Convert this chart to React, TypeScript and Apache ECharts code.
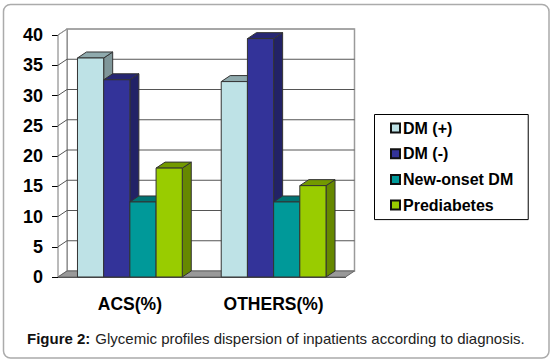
import React, { useEffect, useRef } from "react";
import * as echarts from "echarts";

const categories = ["ACS(%)", "OTHERS(%)"];
const dmPositive = [36.2, 32.3];
const dmNegative = [32.6, 39.4];
const newOnsetDm = [12.4, 12.4];
const prediabetes = [18, 15.1];
const gridTicks = [0, 5, 10, 15, 20, 25, 30, 35, 40];
const seriesNames = ["DM (+)", "DM (-)", "New-onset DM", "Prediabetes"];
const seriesValues = [dmPositive, dmNegative, newOnsetDm, prediabetes];
const frontColors = ["#BEE2E6", "#333399", "#009999", "#99CC00"];
const topColors = ["#8FAAAD", "#262673", "#007373", "#739900"];
const sideColors = ["#7F9699", "#222266", "#006666", "#668800"];
const caption = "Glycemic profiles dispersion of inpatients according to diagnosis.";

const DX = 9;
const DY = -6;
const BAR_W = 26.2;
const EDGE = "#333333";
const FONT = "'Liberation Sans', Arial, sans-serif";

function poly(points: number[][], fill: string, stroke = EDGE, lineWidth = 1) {
  return { type: "polygon", shape: { points }, style: { fill, stroke, lineWidth } };
}

function renderWall(params: any, api: any) {
  const cs = params.coordSys;
  const value = api.value(0);
  const [, y] = api.coord([0, value]);
  const x0 = cs.x;
  const x1 = cs.x + cs.width;
  const children: any[] = [];
  if (value === gridTicks[0]) {
    const top = cs.y;
    const bottom = cs.y + cs.height;
    children.push({
      type: "polygon",
      shape: { points: [[x0 + DX, top + DY], [x1 + DX, top + DY], [x1 + DX, bottom + DY], [x0 + DX, bottom + DY]] },
      style: { fill: "#FFFFFF", stroke: "#9A9A9A", lineWidth: 1.5 },
    });
    children.push(poly([[x0, top], [x0 + DX, top + DY], [x0 + DX, bottom + DY], [x0, bottom]], "#FFFFFF", "#777777", 1));
    children.push(poly([[x0, bottom], [x0 + DX, bottom + DY], [x1 + DX, bottom + DY], [x1, bottom]], "#999999", "#666666", 1));
  } else {
    children.push({
      type: "polyline",
      shape: { points: [[x0, y], [x0 + DX, y + DY], [x1 + DX, y + DY]] },
      style: { fill: "none", stroke: value === gridTicks[gridTicks.length - 1] ? "#9A9A9A" : "#555555", lineWidth: 1 },
    });
  }
  return { type: "group", children };
}

function makeBarRenderer(index: number) {
  return (_params: any, api: any) => {
    const cat = api.value(0);
    const [cx, yTop] = api.coord([cat, api.value(1)]);
    const [, yBase] = api.coord([cat, 0]);
    const left = cx + (index - seriesValues.length / 2) * BAR_W;
    const right = left + BAR_W;
    return {
      type: "group",
      children: [
        poly([[right, yTop], [right + DX, yTop + DY], [right + DX, yBase + DY], [right, yBase]], sideColors[index]),
        poly([[left, yTop], [left + DX, yTop + DY], [right + DX, yTop + DY], [right, yTop]], topColors[index]),
        poly([[left, yTop], [right, yTop], [right, yBase], [left, yBase]], frontColors[index]),
      ],
    };
  };
}

export default function App() {
  const ref = useRef<HTMLDivElement>(null);
  useEffect(() => {
    document.body.style.margin = "0";
    const chart = echarts.init(ref.current!, null, { renderer: "svg" });
    chart.setOption({
      animation: false,
      backgroundColor: "#FFFFFF",
      graphic: [
        {
          type: "rect",
          z: -10,
          silent: true,
          shape: { x: 3.5, y: 4.5, width: 545.5, height: 353.5, r: 7 },
          style: { fill: "#FFFFFF", stroke: "#ABABAB", lineWidth: 1.5 },
        },
      ],
      title: {
        left: 27,
        top: 329,
        padding: 0,
        text: `{b|Figure 2:} {r|${caption}}`,
        textStyle: {
          rich: {
            b: { fontFamily: FONT, fontWeight: "bold", fontSize: 15, color: "#111111" },
            r: { fontFamily: FONT, fontWeight: "normal", fontSize: 15, color: "#222222" },
          },
        },
      },
      legend: {
        orient: "vertical",
        left: 374.5,
        top: 114.5,
        padding: [4.5, 15, 5.5, 15.5],
        itemWidth: 9,
        itemHeight: 9,
        itemGap: 7.7,
        icon: "rect",
        borderColor: "#000000",
        borderWidth: 1,
        borderRadius: 0,
        data: seriesNames,
        selectedMode: false,
        textStyle: { fontFamily: FONT, fontWeight: "bold", fontSize: 16, color: "#000000", padding: [0, 0, 0, -2], lineHeight: 18 },
      },
      grid: { left: 58, top: 35, width: 287.5, height: 242 },
      xAxis: {
        type: "category",
        data: categories,
        axisLine: { lineStyle: { color: "#444444", width: 1 } },
        axisTick: { length: 6, lineStyle: { color: "#000000" } },
        axisLabel: { fontFamily: FONT, fontWeight: "bold", fontSize: 17.5, color: "#000000", margin: 18 },
      },
      yAxis: {
        type: "value",
        min: 0,
        max: 40,
        interval: 5,
        splitLine: { show: false },
        axisLine: { show: true, lineStyle: { color: "#555555" } },
        axisTick: { show: true, length: 6, lineStyle: { color: "#000000" } },
        axisLabel: { fontFamily: FONT, fontWeight: "bold", fontSize: 18, color: "#000000", margin: 15 },
      },
      series: [
        {
          type: "custom",
          silent: true,
          z: 1,
          clip: false,
          renderItem: renderWall,
          encode: { y: 0 },
          data: gridTicks.map((t) => [t]),
        },
        ...seriesNames.map((name, i) => ({
          type: "custom",
          name,
          z: 2 + i,
          clip: false,
          renderItem: makeBarRenderer(i),
          encode: { x: 0, y: 1 },
          itemStyle: { color: frontColors[i], borderColor: "#111111", borderWidth: 1 },
          data: seriesValues[i].map((v, c) => [c, v]),
        })),
      ],
    });
    return () => chart.dispose();
  }, []);
  return <div ref={ref} style={{ width: 552, height: 361 }} />;
}
